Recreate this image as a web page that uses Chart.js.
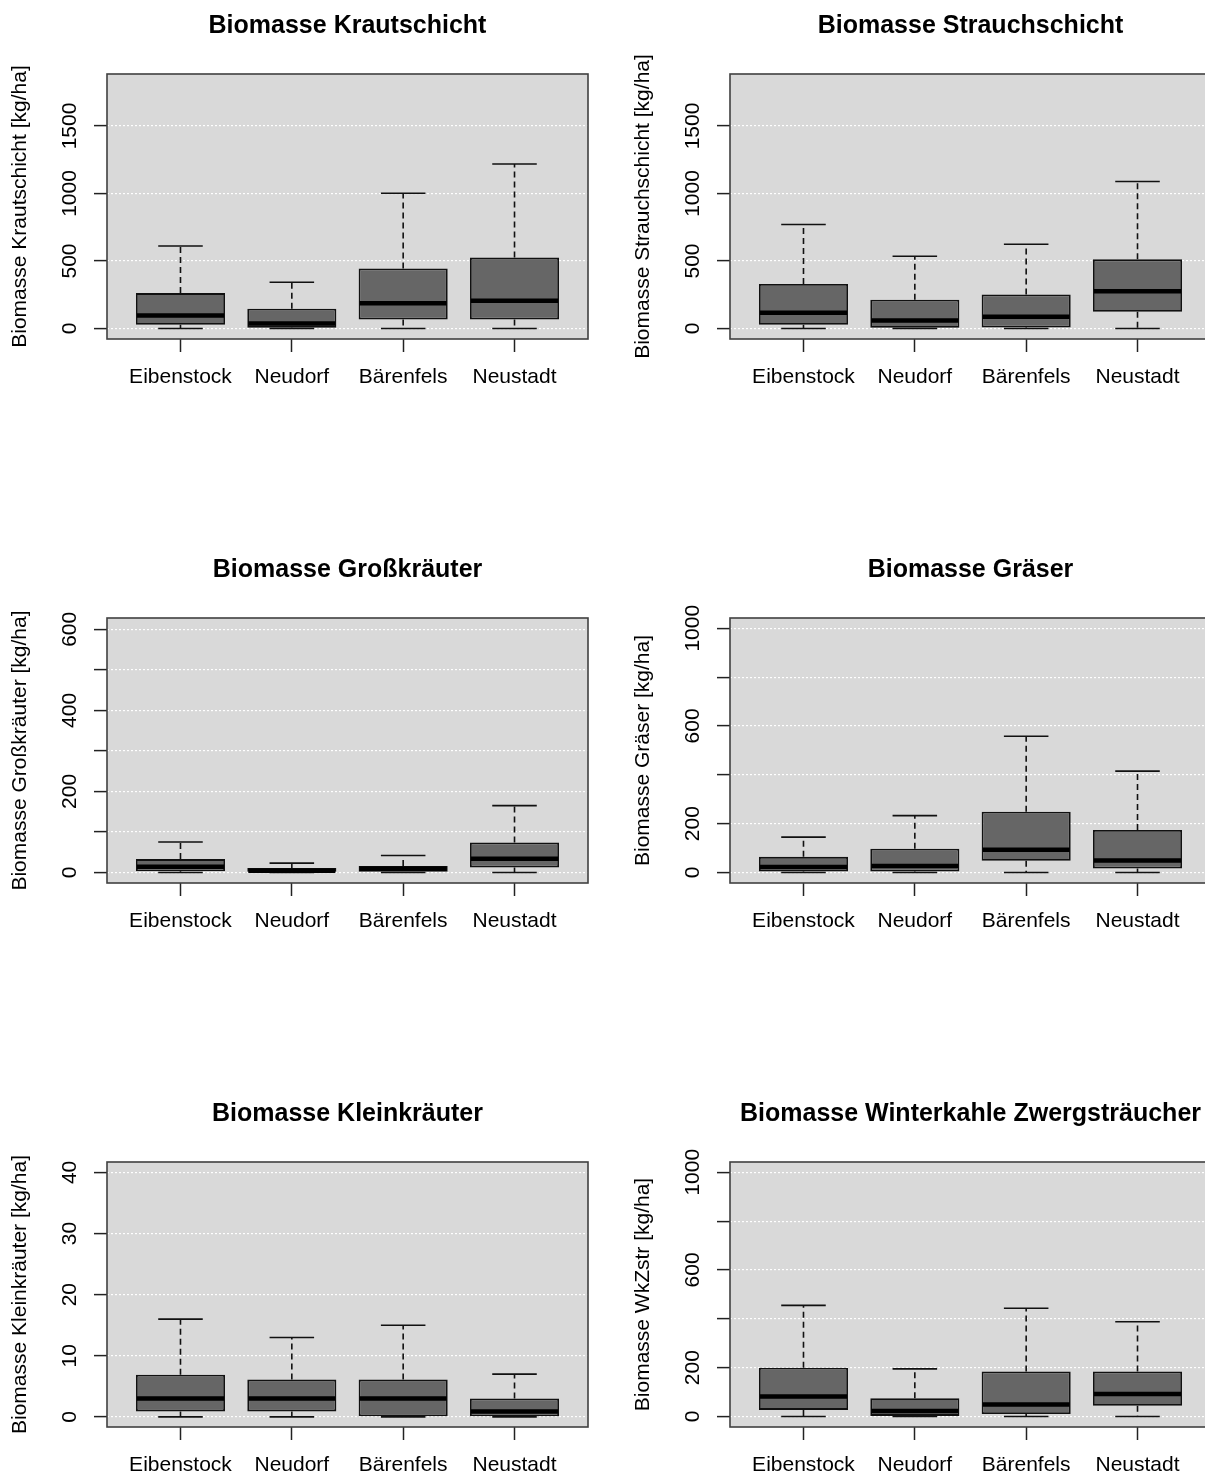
<!DOCTYPE html>
<html>
<head>
<meta charset="utf-8">
<script src="https://cdn.jsdelivr.net/npm/chart.js@4.4.1/dist/chart.umd.min.js"></script>
<style>
  html, body { margin: 0; padding: 0; background: #fff; overflow: hidden; }
  #sheet { position: relative; width: 1205px; height: 1477px; overflow: hidden; }
  .panel { position: absolute; width: 623px; height: 544px; }
</style>
</head>
<body>
<div id="sheet">
  <div class="panel" style="left:0;top:0"><canvas id="p1" width="623" height="544"></canvas></div>
  <div class="panel" style="left:623px;top:0"><canvas id="p2" width="623" height="544"></canvas></div>
  <div class="panel" style="left:0;top:544px"><canvas id="p3" width="623" height="544"></canvas></div>
  <div class="panel" style="left:623px;top:544px"><canvas id="p4" width="623" height="544"></canvas></div>
  <div class="panel" style="left:0;top:1088px"><canvas id="p5" width="623" height="544"></canvas></div>
  <div class="panel" style="left:623px;top:1088px"><canvas id="p6" width="623" height="544"></canvas></div>
</div>
<script>
const sites = ['Eibenstock', 'Neudorf', 'Bärenfels', 'Neustadt'];

// per site: [lower whisker, Q1, median, Q3, upper whisker]
const krautBoxes = [[0, 27, 97, 262, 611], [0, 5, 37, 146, 342], [0, 67, 186, 445, 1002], [0, 67, 205, 525, 1218]];
const strauchBoxes = [[0, 27, 116, 329, 770], [0, 0, 59, 213, 535], [0, 7, 87, 252, 624], [0, 124, 275, 512, 1089]];
const grossBoxes = [[0, 3, 14, 33, 75], [0, 0, 4, 11, 23], [0, 0, 9, 16, 42], [0, 12, 34, 74, 165]];
const graeserBoxes = [[0, 4, 22, 64, 145], [0, 4, 27, 97, 233], [0, 48, 93, 249, 558], [0, 16, 49, 174, 415]];
const kleinBoxes = [[0, 0.9, 3, 6.9, 16], [0, 0.9, 3, 6.1, 13], [0, 0, 3, 6.1, 15], [0, 0, 0.9, 3, 7]];
const wkzBoxes = [[0, 27, 82, 200, 455], [0, 0, 22, 75, 195], [0, 10, 49, 184, 443], [0, 44, 92, 184, 388]];

// y tick marks and the subset that gets a label
const krautTicks = [0, 500, 1000, 1500];
const grossTicks = [0, 100, 200, 300, 400, 500, 600];
const grossLabels = [0, 200, 400, 600];
const graeserTicks = [0, 200, 400, 600, 800, 1000];
const graeserLabels = [0, 200, 600, 1000];
const kleinTicks = [0, 10, 20, 30, 40];

const panels = [
  { id: 'p1', title: 'Biomasse Krautschicht', yTitle: 'Biomasse Krautschicht [kg/ha]', boxes: krautBoxes, ticks: krautTicks, labels: krautTicks, min: -78, max: 1885 },
  { id: 'p2', title: 'Biomasse Strauchschicht', yTitle: 'Biomasse Strauchschicht [kg/ha]', boxes: strauchBoxes, ticks: krautTicks, labels: krautTicks, min: -78, max: 1885 },
  { id: 'p3', title: 'Biomasse Großkräuter', yTitle: 'Biomasse Großkräuter [kg/ha]', boxes: grossBoxes, ticks: grossTicks, labels: grossLabels, min: -26, max: 628 },
  { id: 'p4', title: 'Biomasse Gräser', yTitle: 'Biomasse Gräser [kg/ha]', boxes: graeserBoxes, ticks: graeserTicks, labels: graeserLabels, min: -43, max: 1042 },
  { id: 'p5', title: 'Biomasse Kleinkräuter', yTitle: 'Biomasse Kleinkräuter [kg/ha]', boxes: kleinBoxes, ticks: kleinTicks, labels: kleinTicks, min: -1.65, max: 41.7 },
  { id: 'p6', title: 'Biomasse Winterkahle Zwergsträucher', yTitle: 'Biomasse WkZstr [kg/ha]', boxes: wkzBoxes, ticks: graeserTicks, labels: graeserLabels, min: -43, max: 1042 }
];

const FONT = 'Liberation Sans, Arial, Helvetica, sans-serif';

// grey plot region behind everything, frame on top
const plotFrame = {
  id: 'plotFrame',
  beforeDraw(chart) {
    const a = chart.chartArea, ctx = chart.ctx;
    ctx.save();
    ctx.fillStyle = '#d9d9d9';
    ctx.fillRect(a.left, a.top, a.right - a.left, a.bottom - a.top);
    ctx.restore();
  },
  afterDraw(chart) {
    const a = chart.chartArea, ctx = chart.ctx;
    ctx.save();
    ctx.strokeStyle = '#404040';
    ctx.lineWidth = 1.6;
    ctx.strokeRect(a.left, a.top, a.right - a.left, a.bottom - a.top);
    ctx.restore();
  }
};

// whiskers, caps and median lines around the floating bars
const boxParts = {
  id: 'boxParts',
  beforeDatasetsDraw(chart) {
    const ctx = chart.ctx, y = chart.scales.y;
    const ds = chart.data.datasets[0];
    chart.getDatasetMeta(0).data.forEach((bar, i) => {
      const [lo, q1, , q3, hi] = ds.stats[i];
      const half = bar.width / 4;
      ctx.save();
      ctx.strokeStyle = '#111';
      ctx.lineWidth = 1.6;
      ctx.setLineDash([6, 4]);
      ctx.beginPath();
      ctx.moveTo(bar.x, y.getPixelForValue(q3));
      ctx.lineTo(bar.x, y.getPixelForValue(hi));
      ctx.moveTo(bar.x, y.getPixelForValue(q1));
      ctx.lineTo(bar.x, y.getPixelForValue(lo));
      ctx.stroke();
      ctx.setLineDash([]);
      ctx.beginPath();
      [lo, hi].forEach(v => {
        const py = y.getPixelForValue(v);
        ctx.moveTo(bar.x - half, py);
        ctx.lineTo(bar.x + half, py);
      });
      ctx.stroke();
      ctx.restore();
    });
  },
  afterDatasetsDraw(chart) {
    const ctx = chart.ctx, y = chart.scales.y;
    const ds = chart.data.datasets[0];
    chart.getDatasetMeta(0).data.forEach((bar, i) => {
      const py = y.getPixelForValue(ds.stats[i][2]);
      ctx.save();
      ctx.strokeStyle = '#000';
      ctx.lineWidth = 4.5;
      ctx.beginPath();
      ctx.moveTo(bar.x - bar.width / 2 + 1, py);
      ctx.lineTo(bar.x + bar.width / 2 - 1, py);
      ctx.stroke();
      ctx.restore();
    });
  }
};

// y tick labels run parallel to the axis
const yTickLabels = {
  id: 'yTickLabels',
  afterDraw(chart, args, opts) {
    const ctx = chart.ctx, y = chart.scales.y;
    ctx.save();
    ctx.fillStyle = '#000';
    ctx.font = '21px ' + FONT;
    ctx.textAlign = 'center';
    ctx.textBaseline = 'middle';
    opts.values.forEach(v => {
      ctx.save();
      ctx.translate(y.right - 37, y.getPixelForValue(v));
      ctx.rotate(-Math.PI / 2);
      ctx.fillText(String(v), 0, 0);
      ctx.restore();
    });
    ctx.restore();
  }
};

panels.forEach(p => {
  new Chart(document.getElementById(p.id), {
    type: 'bar',
    data: {
      datasets: [{
        data: p.boxes.map((b, i) => ({ x: i + 1, y: [b[1], b[3]] })),
        stats: p.boxes,
        backgroundColor: '#666666',
        borderColor: '#111111',
        borderWidth: 1.8,
        borderSkipped: false,
        barPercentage: 0.8,
        categoryPercentage: 1
      }]
    },
    options: {
      responsive: false,
      animation: false,
      events: [],
      layout: { padding: { left: 0, right: 35, top: 0, bottom: 0 } },
      plugins: {
        legend: { display: false },
        tooltip: { enabled: false },
        title: {
          display: true,
          fullSize: false,
          text: p.title,
          color: '#000',
          font: { family: FONT, size: 25, weight: 'bold' },
          padding: { top: 11, bottom: 33 }
        },
        yTickLabels: { values: p.labels }
      },
      scales: {
        x: {
          type: 'linear',
          min: 0.34,
          max: 4.66,
          bounds: 'data',
          offset: false,
          afterBuildTicks: s => { s.ticks = sites.map((_, i) => ({ value: i + 1 })); },
          afterFit: s => { s.height = 205; },
          ticks: {
            autoSkip: false,
            maxRotation: 0,
            minRotation: 0,
            padding: 13,
            color: '#000',
            font: { family: FONT, size: 21 },
            callback: v => sites[v - 1]
          },
          grid: { offset: false, drawOnChartArea: false, drawTicks: true, tickLength: 13, tickColor: '#222', tickWidth: 1.5 },
          border: { display: false }
        },
        y: {
          min: p.min,
          max: p.max,
          bounds: 'data',
          afterBuildTicks: s => { s.ticks = p.ticks.map(v => ({ value: v })); },
          afterFit: s => { s.width = 107; },
          ticks: { display: false },
          title: {
            display: true,
            text: p.yTitle,
            color: '#000',
            font: { family: FONT, size: 21 },
            padding: { top: 8, bottom: 0 }
          },
          grid: { color: '#ffffff', lineWidth: 1.2, drawTicks: true, tickLength: 13, tickColor: '#222', tickWidth: 1.5 },
          border: { display: false, dash: [2, 2] }
        }
      }
    },
    plugins: [plotFrame, boxParts, yTickLabels]
  });
});
</script>
</body>
</html>
